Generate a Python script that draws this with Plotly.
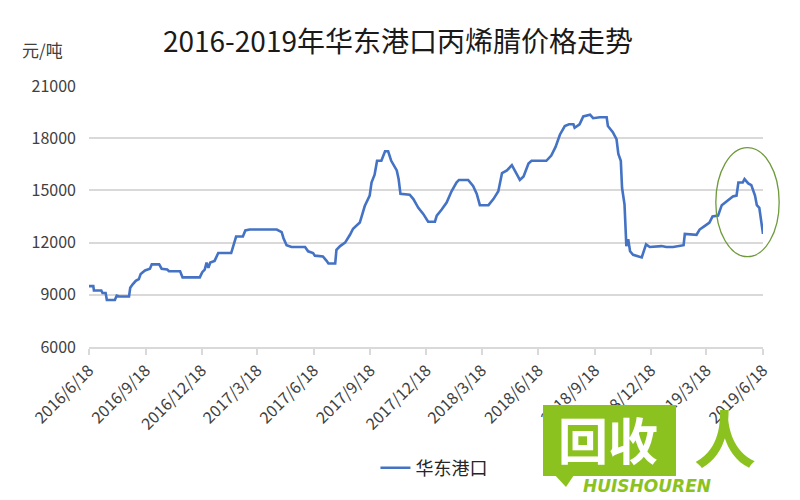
import plotly.graph_objects as go

dates = [
    "2016-06-18", "2016-06-25", "2016-06-26", "2016-07-08", "2016-07-10", "2016-07-15", "2016-07-17",
    "2016-07-30", "2016-08-02", "2016-08-06", "2016-08-22", "2016-08-24", "2016-08-28", "2016-09-02",
    "2016-09-07", "2016-09-10", "2016-09-17", "2016-09-25", "2016-09-28", "2016-10-10", "2016-10-14",
    "2016-10-23", "2016-10-26", "2016-11-13", "2016-11-17", "2016-12-15", "2016-12-19", "2016-12-23",
    "2016-12-26", "2016-12-29", "2017-01-01", "2017-01-08", "2017-01-14", "2017-02-04", "2017-02-12",
    "2017-02-23", "2017-02-27", "2017-03-06", "2017-04-19", "2017-04-27", "2017-04-30", "2017-05-05",
    "2017-05-13", "2017-06-04", "2017-06-09", "2017-06-17", "2017-06-20", "2017-07-03", "2017-07-09",
    "2017-07-12", "2017-07-23", "2017-07-25", "2017-07-31", "2017-08-08", "2017-08-16", "2017-08-21",
    "2017-09-01", "2017-09-09", "2017-09-17", "2017-09-20", "2017-09-25", "2017-09-29", "2017-10-06",
    "2017-10-12", "2017-10-17", "2017-10-22", "2017-10-31", "2017-11-03", "2017-11-06", "2017-11-21",
    "2017-11-27", "2017-12-05", "2017-12-13", "2017-12-21", "2018-01-01", "2018-01-04", "2018-01-12",
    "2018-01-20", "2018-01-28", "2018-02-05", "2018-02-09", "2018-02-24", "2018-03-04", "2018-03-10",
    "2018-03-15", "2018-03-29", "2018-04-06", "2018-04-14", "2018-04-20", "2018-04-28", "2018-05-06",
    "2018-05-11", "2018-05-19", "2018-05-25", "2018-06-02", "2018-06-07", "2018-07-01", "2018-07-09",
    "2018-07-16", "2018-07-23", "2018-07-31", "2018-08-07", "2018-08-14", "2018-08-16", "2018-08-24",
    "2018-08-30", "2018-09-10", "2018-09-15", "2018-09-26", "2018-10-07", "2018-10-09", "2018-10-17",
    "2018-10-23", "2018-10-26", "2018-10-30", "2018-11-01", "2018-11-05", "2018-11-08", "2018-11-11",
    "2018-11-14", "2018-11-19", "2018-12-03", "2018-12-10", "2018-12-16", "2019-01-04", "2019-01-12",
    "2019-01-23", "2019-02-09", "2019-02-11", "2019-03-02", "2019-03-07", "2019-03-15", "2019-03-23",
    "2019-03-28", "2019-04-06", "2019-04-12", "2019-04-22", "2019-04-30", "2019-05-06", "2019-05-09",
    "2019-05-16", "2019-05-19", "2019-05-25", "2019-05-30", "2019-06-05", "2019-06-08", "2019-06-12",
    "2019-06-16", "2019-06-18",
]

prices = [
    9500, 9500, 9250, 9250, 9100, 9100, 8700,
    8700, 8950, 8900, 8900, 9400, 9600, 9800,
    9900, 10200, 10400, 10500, 10750, 10750, 10500,
    10450, 10350, 10350, 10000, 10000, 10300, 10450,
    10850, 10550, 10850, 10950, 11400, 11400, 12350,
    12350, 12700, 12750, 12750, 12600, 12250, 11850,
    11750, 11750, 11500, 11400, 11250, 11200, 10950,
    10800, 10800, 11580, 11800, 12000, 12450, 12800,
    13150, 14100, 14700, 15450, 15900, 16700, 16700,
    17250, 17250, 16700, 16150, 15650, 14800, 14750,
    14500, 14000, 13650, 13200, 13200, 13550, 13900,
    14300, 14950, 15450, 15600, 15600, 15250, 14800,
    14150, 14150, 14500, 14950, 16000, 16150, 16450,
    16100, 15600, 15800, 16550, 16700, 16700, 17000,
    17500, 18200, 18700, 18800, 18800, 18600, 18800,
    19250, 19350, 19150, 19200, 19200, 18700, 18350,
    17950, 17100, 16700, 15150, 14200, 11800, 12200,
    11500, 11300, 11150, 11900, 11750, 11800, 11750,
    11750, 11850, 12500, 12450, 12750, 12950, 13150,
    13500, 13550, 14150, 14400, 14650, 14700, 15450,
    15450, 15650, 15400, 15300, 14700, 14150, 14000,
    13150, 12500,
]

tick_dates = ["2016-06-18", "2016-09-18", "2016-12-18", "2017-03-18", "2017-06-18", "2017-09-18",
              "2017-12-18", "2018-03-18", "2018-06-18", "2018-09-18", "2018-12-18", "2019-03-18",
              "2019-06-18"]
tick_labels = ["2016/6/18", "2016/9/18", "2016/12/18", "2017/3/18", "2017/6/18", "2017/9/18",
               "2017/12/18", "2018/3/18", "2018/6/18", "2018/9/18", "2018/12/18", "2019/3/18",
               "2019/6/18"]
y_ticks = [6000, 9000, 12000, 15000, 18000, 21000]
y_tick_labels = ["6000", "9000", "12000", "15000", "18000", "21000"]

series_name = "华东港口"
title_text = "2016-2019年华东港口丙烯腈价格走势"
unit_text = "元/吨"

FONT = "Noto Sans CJK SC, Microsoft YaHei, sans-serif"
GREEN = "#8cc21f"

fig = go.Figure()
fig.add_trace(go.Scatter(
    x=dates, y=prices, mode="lines", name=series_name,
    line=dict(color="#4472c4", width=2.6),
))

fig.update_layout(
    width=792, height=492,
    margin=dict(l=81, r=37, t=78, b=153),
    paper_bgcolor="white", plot_bgcolor="white",
    font=dict(family=FONT, color="#404040", size=16),
    title=dict(text=title_text, x=0.4924, xanchor="center", y=0.931, yanchor="middle",
               font=dict(family=FONT, size=28, color="#1a1a1a")),
    showlegend=True,
    legend=dict(orientation="h", x=0.425, xanchor="left", y=-0.464, yanchor="middle",
                font=dict(family=FONT, size=18, color="#262626"), bgcolor="rgba(0,0,0,0)"),
    xaxis=dict(
        type="date", range=["2016-06-18", "2019-06-18"], automargin=False,
        tickmode="array", tickvals=tick_dates, ticktext=tick_labels,
        tickangle=-45, tickfont=dict(family=FONT, size=16, color="#404040"),
        showgrid=False, showline=True, linecolor="#d9d9d9", linewidth=1.5,
        ticks="outside", ticklen=6, tickcolor="#d9d9d9", tickwidth=1.5,
        zeroline=False,
    ),
    yaxis=dict(
        range=[6000, 21000], tickmode="array", tickvals=y_ticks, ticktext=y_tick_labels,
        automargin=False,
        tickfont=dict(family=FONT, size=16, color="#404040"),
        showgrid=True, gridcolor="#d9d9d9", gridwidth=1.5,
        showline=False, zeroline=False, ticks="", ticklabelstandoff=12,
    ),
)

# unit label
fig.add_annotation(text=unit_text, xref="paper", yref="paper", x=-0.103, y=1.138,
                   xanchor="left", yanchor="middle", showarrow=False,
                   font=dict(family=FONT, size=17, color="#404040"))

# green ellipse highlight
fig.add_shape(type="circle", xref="paper", yref="paper",
              x0=0.930, x1=1.024, y0=0.346, y1=0.764,
              line=dict(color="#6f9a3c", width=1.3))

# watermark logo
fig.add_shape(type="rect", xref="paper", yref="paper",
              x0=(543 - 89) / 674, x1=(676 - 89) / 674,
              y0=(347 - 476) / 261, y1=(347 - 405) / 261,
              fillcolor=GREEN, line=dict(width=0), layer="above")
fig.add_shape(type="path", xref="paper", yref="paper",
              path="M %f %f L %f %f L %f %f Z" % ((552 - 89) / 674, (347 - 472) / 261,
                                                  (566 - 89) / 674, (347 - 487) / 261,
                                                  (576 - 89) / 674, (347 - 472) / 261),
              fillcolor=GREEN, line=dict(width=0), layer="above")
fig.add_annotation(text="<b>回收</b>", xref="paper", yref="paper",
                   x=(608 - 89) / 674, y=(347 - 438) / 261, xanchor="center", yanchor="middle",
                   showarrow=False, font=dict(family=FONT, size=50, color="white"))
fig.add_annotation(text="<b><i>HUISHOUREN</i></b>", xref="paper", yref="paper",
                   x=(647 - 89) / 674, y=(347 - 486) / 261, xanchor="center", yanchor="middle",
                   showarrow=False, font=dict(family="DejaVu Sans", size=17, color=GREEN))
fig.add_annotation(text="<b>人</b>", xref="paper", yref="paper",
                   x=(725 - 89) / 674, y=(347 - 436) / 261, xanchor="center", yanchor="middle",
                   showarrow=False, font=dict(family=FONT, size=62, color=GREEN))

fig.write_html("out.html")
